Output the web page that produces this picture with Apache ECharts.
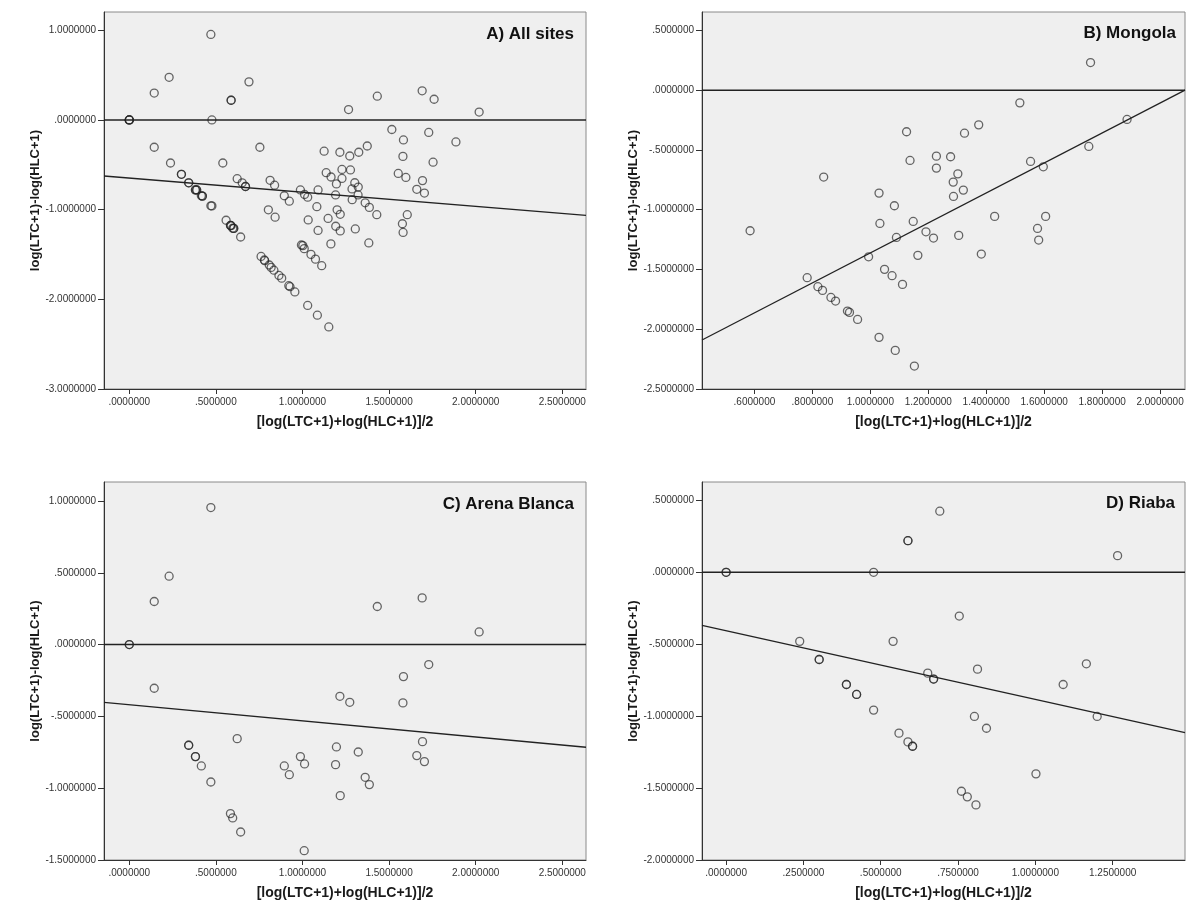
<!DOCTYPE html>
<html><head><meta charset="utf-8">
<script src="https://cdn.jsdelivr.net/npm/echarts@6/dist/echarts.min.js"></script>
<style>html,body{margin:0;padding:0;background:#fff}#c{width:1200px;height:918px}</style>
</head><body><div id="c"></div>
<script>
// ---- labels ----
const panelTitles = ['A) All sites', 'B) Mongola', 'C) Arena Blanca', 'D) Riaba'];
const xTitle = '[log(LTC+1)+log(HLC+1)]/2';
const yTitle = 'log(LTC+1)-log(HLC+1)';

// ---- data: [mean of logs, difference of logs] ----
const mongola = [
  [1.760, 0.231], [1.516, -0.106], [1.886, -0.245], [1.374, -0.290], [1.125, -0.348],
  [1.325, -0.360], [1.754, -0.471], [1.228, -0.552], [1.277, -0.557], [1.137, -0.588],
  [1.553, -0.596], [1.597, -0.641], [1.228, -0.652], [1.302, -0.700], [0.839, -0.727],
  [1.286, -0.769], [1.321, -0.836], [1.030, -0.861], [1.287, -0.889], [1.083, -0.967],
  [1.429, -1.056], [1.605, -1.056], [1.148, -1.098], [1.033, -1.115], [1.577, -1.157],
  [0.585, -1.176], [1.192, -1.185], [1.305, -1.215], [1.090, -1.232], [1.218, -1.237],
  [1.581, -1.254], [1.383, -1.371], [1.164, -1.382], [0.994, -1.394], [1.049, -1.499],
  [1.075, -1.552], [0.782, -1.569], [1.111, -1.625], [0.819, -1.644], [0.835, -1.675],
  [0.864, -1.734], [0.880, -1.764], [0.921, -1.848], [0.928, -1.859], [0.956, -1.918],
  [1.030, -2.068], [1.086, -2.177], [1.152, -2.308]
];
const arenaBlanca = [
  [0.471, 0.954], [0.230, 0.476], [0.144, 0.300], [1.691, 0.325], [1.432, 0.265],
  [2.020, 0.088], [0.000, 0.000], [0.000, 0.000], [1.729, -0.139], [1.583, -0.223],
  [0.144, -0.304], [1.216, -0.360], [1.273, -0.402], [1.580, -0.406], [0.623, -0.655],
  [1.693, -0.676], [0.343, -0.701], [0.343, -0.701], [1.196, -0.713], [1.322, -0.748],
  [1.660, -0.773], [0.382, -0.780], [0.382, -0.780], [0.988, -0.780], [1.704, -0.815],
  [1.012, -0.831], [1.191, -0.836], [0.416, -0.845], [0.895, -0.845], [0.924, -0.906],
  [1.362, -0.924], [0.471, -0.957], [1.386, -0.975], [1.218, -1.052], [0.584, -1.177],
  [0.597, -1.207], [0.643, -1.305], [1.010, -1.435]
];
const riaba = [
  [0.691, 0.425], [0.588, 0.220], [0.588, 0.220], [1.266, 0.116], [0.000, 0.000],
  [0.000, 0.000], [0.477, 0.000], [0.754, -0.304], [0.238, -0.480], [0.540, -0.480],
  [0.301, -0.606], [0.301, -0.606], [1.165, -0.636], [0.813, -0.673], [0.652, -0.701],
  [0.671, -0.742], [0.671, -0.742], [0.389, -0.780], [0.389, -0.780], [1.090, -0.780],
  [0.422, -0.849], [0.422, -0.849], [0.477, -0.958], [0.803, -1.002], [1.200, -1.002],
  [0.842, -1.084], [0.559, -1.118], [0.588, -1.179], [0.603, -1.209], [0.603, -1.209],
  [1.002, -1.401], [0.761, -1.522], [0.780, -1.561], [0.808, -1.617]
];
const allSites = [].concat(mongola, arenaBlanca, riaba);

// ---- fitted lines (endpoints at the axis extents) ----
const fitA = [[-0.146, -0.625], [2.637, -1.063]];
const fitB = [[0.419, -2.090], [2.086, 0.000]];
const fitC = [[-0.146, -0.402], [2.637, -0.715]];
const fitD = [[-0.078, -0.369], [1.484, -1.114]];

// ---- axis extents and ticks ----
const xRangeA = [-0.146, 2.637], yRangeA = [-3, 1.204];
const xRangeB = [0.419, 2.086], yRangeB = [-2.5, 0.654];
const xRangeC = [-0.146, 2.637], yRangeC = [-1.5, 1.132];
const xRangeD = [-0.078, 1.484], yRangeD = [-2, 0.628];
const xTicksA = [0, 0.5, 1, 1.5, 2, 2.5];
const yTicksA = [-3, -2, -1, 0, 1];
const xTicksB = [0.6, 0.8, 1.0, 1.2, 1.4, 1.6, 1.8, 2.0];
const yTicksB = [-2.5, -2, -1.5, -1, -0.5, 0, 0.5];
const xTicksC = [0, 0.5, 1, 1.5, 2, 2.5];
const yTicksC = [-1.5, -1, -0.5, 0, 0.5, 1];
const xTicksD = [0, 0.25, 0.5, 0.75, 1, 1.25];
const yTicksD = [-2, -1.5, -1, -0.5, 0, 0.5];

// ---- build ----
const FONT = 'Liberation Sans, Arial, sans-serif';
function fmt(v) {
  if (Math.abs(v) < 1e-9) v = 0;
  let s = Math.abs(v).toFixed(7);
  if (s.charAt(0) === '0') s = s.slice(1);
  return (v < 0 ? '-' : '') + s;
}
const panels = [
  {data: allSites, fit: fitA, xr: xRangeA, yr: yRangeA, xt: xTicksA, yt: yTicksA,
   grid: {left: 104, top: 12, width: 482, height: 377}, title: {right: 626, top: 26}},
  {data: mongola, fit: fitB, xr: xRangeB, yr: yRangeB, xt: xTicksB, yt: yTicksB,
   grid: {left: 702, top: 12, width: 483, height: 377}, title: {right: 24, top: 25}},
  {data: arenaBlanca, fit: fitC, xr: xRangeC, yr: yRangeC, xt: xTicksC, yt: yTicksC,
   grid: {left: 104, top: 482, width: 482, height: 378}, title: {right: 626, top: 496}},
  {data: riaba, fit: fitD, xr: xRangeD, yr: yRangeD, xt: xTicksD, yt: yTicksD,
   grid: {left: 702, top: 482, width: 483, height: 378}, title: {right: 25, top: 495}}
];

const option = {
  animation: false,
  backgroundColor: '#ffffff',
  textStyle: {fontFamily: FONT},
  title: [], grid: [], xAxis: [], yAxis: [], series: []
};
panels.forEach((p, i) => {
  option.title.push(Object.assign({
    text: panelTitles[i], padding: 0,
    textStyle: {fontFamily: FONT, fontSize: 17, fontWeight: 'bold', color: '#111'}
  }, p.title));
  option.grid.push(Object.assign({
    show: true, backgroundColor: '#efefef', borderColor: '#8a8a8a', borderWidth: 1
  }, p.grid));
  option.xAxis.push({
    type: 'value', gridIndex: i, min: p.xr[0], max: p.xr[1],
    name: xTitle, nameLocation: 'middle', nameGap: 26,
    nameTextStyle: {fontFamily: FONT, fontSize: 14, fontWeight: 'bold', color: '#1a1a1a'},
    splitLine: {show: false},
    axisLine: {show: true, onZero: false, lineStyle: {color: '#333', width: 1}},
    axisTick: {show: true, inside: false, length: 5, customValues: p.xt, lineStyle: {color: '#333'}},
    axisLabel: {customValues: p.xt, formatter: fmt, fontFamily: FONT, fontSize: 10, color: '#333', margin: 8}
  });
  option.yAxis.push({
    type: 'value', gridIndex: i, min: p.yr[0], max: p.yr[1],
    name: yTitle, nameLocation: 'middle', nameGap: 61, nameRotate: 90,
    nameTextStyle: {fontFamily: FONT, fontSize: 13, fontWeight: 'bold', color: '#1a1a1a'},
    splitLine: {show: false},
    axisLine: {show: true, onZero: false, lineStyle: {color: '#333', width: 1}},
    axisTick: {show: true, inside: false, length: 6, customValues: p.yt, lineStyle: {color: '#333'}},
    axisLabel: {customValues: p.yt, formatter: fmt, fontFamily: FONT, fontSize: 10, color: '#333', margin: 8}
  });
  option.series.push({
    type: 'line', xAxisIndex: i, yAxisIndex: i, silent: true, symbol: 'none',
    data: [[p.xr[0], 0], [p.xr[1], 0]],
    lineStyle: {color: '#222', width: 1.5}, z: 2
  });
  option.series.push({
    type: 'line', xAxisIndex: i, yAxisIndex: i, silent: true, symbol: 'none',
    data: p.fit, lineStyle: {color: '#222', width: 1.3}, z: 2
  });
  option.series.push({
    type: 'scatter', xAxisIndex: i, yAxisIndex: i, symbol: 'circle', symbolSize: 8,
    data: p.data,
    itemStyle: {color: 'rgba(0,0,0,0)', borderColor: 'rgba(35,35,35,0.85)', borderWidth: 1.3},
    z: 3
  });
});
const chart = echarts.init(document.getElementById('c'), null, {renderer: 'canvas'});
chart.setOption(option);
</script></body></html>
